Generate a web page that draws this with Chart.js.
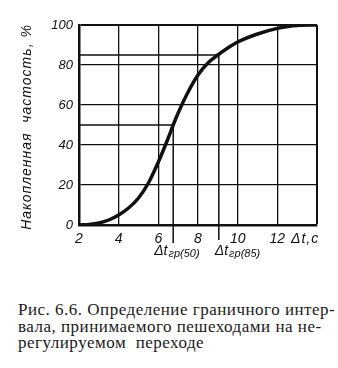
<!DOCTYPE html>
<html lang="ru">
<head>
<meta charset="utf-8">
<script src="https://cdn.jsdelivr.net/npm/chart.js@4"></script>
<style>
  html, body { margin: 0; padding: 0; background: #fff; }
  #wrap { position: relative; width: 338px; height: 368px; }
  #chart { position: absolute; left: 0; top: 0; }
  #caption {
    position: absolute; left: 18px; top: 302px;
    font: 17px "Liberation Serif", serif; line-height: 16.5px;
    color: #1a1a1a; white-space: pre; letter-spacing: 0.5px;
  }
</style>
</head>
<body>
<div id="wrap">
  <canvas id="chart" width="338" height="275"></canvas>
  <div id="caption">Рис. 6.6. Определение граничного интер-
вала, принимаемого пешеходами на не-
регулируемом  переходе</div>
</div>
<script>
// cumulative share (%) vs gap Δt
const curveTimes = [2, 2.5, 3, 3.5, 4, 4.5, 5, 5.5, 6, 6.5, 6.75, 7, 7.5, 8, 8.5, 9, 9.5, 10, 11, 12, 13, 14];
const curveShares = [0, 0.3, 1, 2.5, 5, 8.5, 13.5, 21, 31.5, 43.5, 50, 56, 66.5, 75, 81, 85, 88.5, 91.5, 95.5, 98.3, 99.8, 100];

// guide lines for the 50% and 85% levels
const refShares = [50, 85];
const refTimes = [6.75, 9.05];
const refDrops = [-9, -7.5];
const refSubs = ["гр(50)", "гр(85)"];

const xMin = 2, xMax = 14, xStep = 2;
const yMin = 0, yMax = 100, yStep = 20;
const yTitle = "Накопленная  частость, %";
const xUnit = "Δt,c";

const black = "#111";

const guideSets = refShares.map((s, i) => ({
  data: [{ x: xMin, y: s }, { x: refTimes[i], y: s }, { x: refTimes[i], y: refDrops[i] }],
  showLine: true,
  borderColor: black,
  borderWidth: 1.5,
  pointRadius: 0,
  clip: false,
}));

const textPlugin = {
  id: "texts",
  afterDraw(chart) {
    const ctx = chart.ctx;
    const xs = chart.scales.x;
    const area = chart.chartArea;
    ctx.save();
    ctx.fillStyle = black;
    ctx.textBaseline = "alphabetic";

    // unit label after the last tick
    ctx.font = "italic 14px 'Liberation Sans', sans-serif";
    ctx.textAlign = "center";
    ctx.letterSpacing = "1px";
    ctx.fillText(xUnit, xs.getPixelForValue(13.4), area.bottom + 18);
    ctx.letterSpacing = "0px";

    // Δt_гр labels under the guide lines
    const offs = [-19, -4];
    refTimes.forEach((t, i) => {
      const x0 = xs.getPixelForValue(t) + offs[i];
      ctx.textAlign = "left";
      ctx.font = "italic 14px 'Liberation Sans', sans-serif";
      ctx.fillText("Δt", x0, area.bottom + 30);
      const w = ctx.measureText("Δt").width;
      ctx.font = "italic 11px 'Liberation Sans', sans-serif";
      ctx.fillText(refSubs[i], x0 + w + 1, area.bottom + 32);
    });

    // rotated y title with wide spacing
    ctx.translate(27, (area.top + area.bottom) / 2 + 2);
    ctx.rotate(-Math.PI / 2);
    ctx.letterSpacing = "1px";
    ctx.font = "italic 14px 'Liberation Sans', sans-serif";
    ctx.textAlign = "center";
    ctx.textBaseline = "middle";
    ctx.fillText(yTitle, 0, 0);
    ctx.restore();
  },
};

new Chart(document.getElementById("chart"), {
  type: "scatter",
  data: {
    datasets: [
      {
        data: curveTimes.map((t, i) => ({ x: t, y: curveShares[i] })),
        showLine: true,
        borderColor: black,
        borderWidth: 3.5,
        borderCapStyle: "round",
        cubicInterpolationMode: "monotone",
        pointRadius: 0,
      },
      ...guideSets,
    ],
  },
  options: {
    responsive: false,
    animation: false,
    layout: { padding: { top: 25, right: 21, left: 0, bottom: 0 } },
    plugins: { legend: { display: false }, tooltip: { enabled: false } },
    scales: {
      x: {
        type: "linear",
        min: xMin,
        max: xMax,
        afterFit: (s) => { s.height = 50; },
        ticks: {
          stepSize: xStep,
          padding: 6,
          color: black,
          font: { family: "'Liberation Sans', sans-serif", size: 14, style: "italic" },
          callback: (v) => (v <= 12 ? v : ""),
        },
        grid: { color: black, lineWidth: (c) => (c.tick && c.tick.value === xMax ? 2 : 1.3), drawTicks: false },
        border: { color: black, width: 2.5 },
      },
      y: {
        min: yMin,
        max: yMax,
        afterFit: (s) => { s.width = 79; },
        ticks: {
          stepSize: yStep,
          padding: 6,
          color: black,
          font: { family: "'Liberation Sans', sans-serif", size: 13, style: "italic" },
        },
        grid: { color: black, lineWidth: (c) => (c.tick && c.tick.value === yMax ? 2 : 1.3), drawTicks: false },
        border: { color: black, width: 2.5 },
      },
    },
  },
  plugins: [textPlugin],
});
</script>
</body>
</html>
